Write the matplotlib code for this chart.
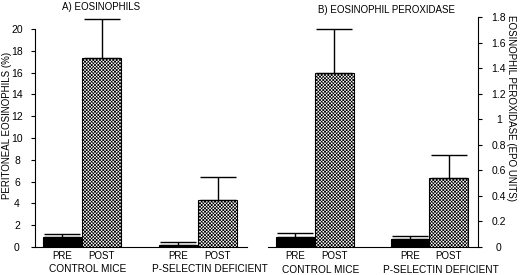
import matplotlib
matplotlib.use("Agg")
import matplotlib.pyplot as plt
import numpy as np

plt.rcParams["font.family"] = ["Liberation Sans", "DejaVu Sans"]
plt.rcParams["hatch.linewidth"] = 0.5

grupos = ["CONTROL MICE", "P-SELECTIN DEFICIENT"]
fases = ["PRE", "POST"]

eos_media = [0.9, 17.3, 0.2, 4.3]
eos_tope = [1.2, 20.9, 0.45, 6.45]

epo_media = [0.08, 1.36, 0.06, 0.54]
epo_tope = [0.11, 1.71, 0.09, 0.72]

eos_ticks = [0, 2, 4, 6, 8, 10, 12, 14, 16, 18, 20]
epo_ticks = [0, 0.2, 0.4, 0.6, 0.8, 1, 1.2, 1.4, 1.6, 1.8]
epo_ticklabels = ["0", "0.2", "0.4", "0.6", "0.8", "1", "1.2", "1.4", "1.6", "1.8"]

centros = np.array([0.0, 2.95])
xs = np.array([centros[0] - 0.5, centros[0] + 0.5, centros[1] - 0.5, centros[1] + 0.5])
desplaz_grupo = [0.15, 0.3]


def dibujar_barras(ax, media, tope):
    media = np.array(media)
    tope = np.array(tope)
    for i, (x, m) in enumerate(zip(xs, media)):
        if i % 2 == 0:
            ax.bar(x, m, width=1.0, color="black", edgecolor="black", linewidth=0.8)
        else:
            ax.bar(x, m, width=1.0, color="white", edgecolor="black", linewidth=0.8,
                   hatch="xxxxxxxxxx")
    eb = ax.errorbar(xs, media, yerr=[np.zeros_like(media), tope - media], fmt="none",
                     ecolor="black", elinewidth=1.0, capsize=13, capthick=1.0)
    for art in eb.lines[1] + eb.lines[2]:
        art.set_clip_on(False)
    ax.set_xlim(-1.2, 4.2)
    ax.set_xticks(xs)
    ax.set_xticklabels(fases * 2, fontsize=7)
    ax.tick_params(axis="x", length=0, pad=3)
    for c, d, g in zip(centros, desplaz_grupo, grupos):
        ax.text(c + d, -0.1, g, transform=ax.get_xaxis_transform(), ha="center",
                va="center", fontsize=7.3)
    ax.spines["top"].set_visible(False)


fig = plt.figure(figsize=(5.2, 2.75), dpi=100)

ax1 = fig.add_axes([35 / 520, 28 / 275, 212 / 520, 218 / 275])
dibujar_barras(ax1, eos_media, eos_tope)
ax1.set_ylim(0, 20)
ax1.set_yticks(eos_ticks)
ax1.tick_params(axis="y", length=3, width=0.8, labelsize=7.5, pad=10)
for lab in ax1.get_yticklabels():
    lab.set_ha("center")
ax1.spines["right"].set_visible(False)

ax2 = fig.add_axes([268 / 520, 28 / 275, 210 / 520, 230 / 275])
dibujar_barras(ax2, epo_media, epo_tope)
ax2.set_ylim(0, 1.8)
ax2.set_yticks(epo_ticks)
ax2.set_yticklabels(epo_ticklabels)
ax2.yaxis.tick_right()
ax2.tick_params(axis="y", length=3, width=0.8, labelsize=7.5, pad=12)
for lab in ax2.get_yticklabels():
    lab.set_ha("center")
ax2.spines["left"].set_visible(False)

fig.text(7 / 520, 1 - 125 / 275, "PERITONEAL EOSINOPHILS (%)", rotation=90,
         ha="center", va="center", fontsize=7)
fig.text(511 / 520, 1 - 108 / 275, "EOSINOPHIL PEROXIDASE (EPO UNITS)", rotation=270,
         ha="center", va="center", fontsize=7)
fig.text(101 / 520, 1 - 7 / 275, "A) EOSINOPHILS", ha="center", va="center",
         fontsize=7)
fig.text(386 / 520, 1 - 10 / 275, "B) EOSINOPHIL PEROXIDASE", ha="center",
         va="center", fontsize=7)

fig.savefig("out.png", dpi=100)
